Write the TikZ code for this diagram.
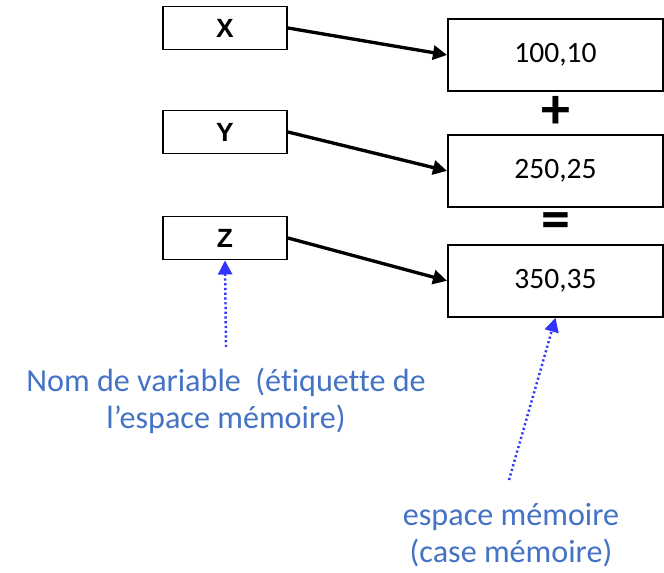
\documentclass[tikz,border=0pt]{standalone}
\usepackage{fontspec}
\setmainfont{Carlito}[Ligatures=NoCommon]
\newfontfamily\labelfont{Liberation Sans}
\usepackage{tikz}
\usetikzlibrary{positioning,calc,arrows.meta}
\usepackage{xcolor}
\definecolor{noteblue}{RGB}{68,114,196}
\definecolor{pointblue}{RGB}{51,51,255}

\begin{document}
\begin{tikzpicture}[
    x=0.02cm, y=-0.02cm,
    varbox/.style={rectangle, draw, line width=1.1pt, minimum width=2.48cm, minimum height=0.86cm, font=\labelfont\bfseries\fontsize{15}{17}\selectfont},
    membox/.style={rectangle, draw, line width=1.1pt, minimum width=4.3cm, minimum height=1.44cm, font=\fontsize{16.8}{19}\selectfont},
    op/.style={font=\bfseries\fontsize{33}{38}\selectfont, inner sep=0pt},
    arrow/.style={-{Triangle[length=8pt,width=8pt]}, line width=1.9pt},
    hint/.style={-{Triangle[length=8pt,width=8pt]}, pointblue, line width=1.4pt, dash pattern=on 1.2pt off 1.5pt},
    note/.style={noteblue, align=center, font=\fontsize{18.3}{21}\selectfont}
]
\useasboundingbox (0,0) rectangle (664,573);

% Nodes
\node[varbox] (x) at (225,28) {X};
\node[varbox] (y) at (225,132) {Y};
\node[varbox] (z) at (225,238) {Z};

\node[membox] (mem1) at (555.5,55) {100,10};
\node[membox, below=0.84cm of mem1] (mem2) {250,25};
\node[membox, below=0.72cm of mem2] (mem3) {350,35};

\node[op] (plus) at ($(mem1.south)!0.5!(mem2.north)$) {+};
\node[op] (equals) at ($(mem2.south)!0.5!(mem3.north)$) {=};

% Arrows
\draw[arrow] (x.east) -- (mem1.west);
\draw[arrow] (y.east) -- (mem2.west);
\draw[arrow] (z.east) -- (mem3.west);

% Labels
\node[note] (varname) at (226,401) {Nom de variable\ \ (étiquette de\\l’espace mémoire)};
\node[note] (memspace) at (511,535) {espace mémoire\\(case mémoire)};
\coordinate (varfoot) at (226,347);
\coordinate (memfoot) at (509,480);
\draw[hint] (varfoot) -- (z.south);
\draw[hint] (memfoot) -- (mem3.south);

\end{tikzpicture}
\end{document}
